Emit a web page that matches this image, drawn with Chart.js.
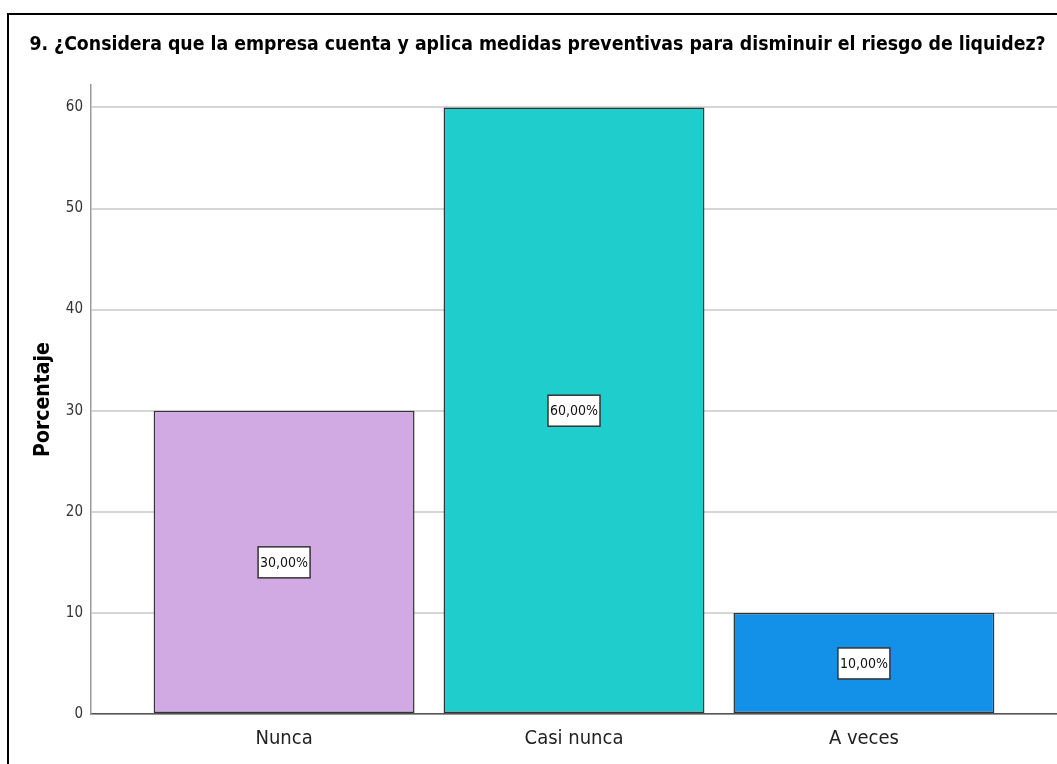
<!doctype html>
<html>

<head>
    <meta charset="utf-8">
    <title>Porcentaje</title>
    <script src="https://cdn.jsdelivr.net/npm/chart.js"></script>
    <style>
        body { margin: 0; background: #fff; overflow: hidden; }
        #marco { position: absolute; left: 7px; top: 13px; width: 1100px; height: 800px; border: 2px solid #000; }
        #grafico { position: absolute; left: 0; top: 0; }
    </style>
</head>

<body>
    <div id="marco"></div>
    <canvas id="grafico" width="1057" height="764"></canvas>

    <script>
        const titulo = '9. ¿Considera que la empresa cuenta y aplica medidas preventivas para disminuir el riesgo de liquidez?';
        const categorias = ['Nunca', 'Casi nunca', 'A veces'];
        const porcentajes = [30, 60, 10];
        const colores = ['#D1AAE4', '#1FCDCD', '#1391E8'];
        const marcasY = [0, 10, 20, 30, 40, 50, 60];

        const fuente = "'Liberation Sans Narrow', 'Arial Narrow', 'DejaVu Sans Condensed', sans-serif";

        // etiquetas con caja blanca en el centro de cada barra
        const etiquetas = {
            id: 'etiquetas',
            afterDatasetsDraw(chart) {
                const ctx = chart.ctx;
                const yScale = chart.scales.y;
                chart.getDatasetMeta(0).data.forEach((barra, i) => {
                    const v = porcentajes[i];
                    const y = yScale.getPixelForValue(v / 2);
                    const w = 52, h = 31;
                    ctx.save();
                    ctx.fillStyle = '#fff';
                    ctx.fillRect(barra.x - w / 2, y - h / 2, w, h);
                    ctx.strokeStyle = '#333';
                    ctx.lineWidth = 1.5;
                    ctx.strokeRect(barra.x - w / 2, y - h / 2, w, h);
                    ctx.fillStyle = '#111';
                    ctx.font = '14px ' + fuente;
                    ctx.textAlign = 'center';
                    ctx.textBaseline = 'middle';
                    ctx.fillText(v.toFixed(2).replace('.', ',') + '%', barra.x, y + 1);
                    ctx.restore();
                });
            }
        };

        new Chart(document.getElementById('grafico').getContext('2d'), {
            type: 'bar',
            data: {
                datasets: [{
                    data: categorias.map((c, i) => ({ x: i, y: porcentajes[i] })),
                    backgroundColor: colores,
                    borderColor: '#333',
                    borderWidth: 1.5,
                    borderSkipped: false,
                    categoryPercentage: 0.9,
                    barPercentage: 1
                }]
            },
            options: {
                responsive: false,
                animation: false,
                layout: { padding: { left: 18, top: 0, right: 0, bottom: 0 } },
                plugins: {
                    legend: { display: false },
                    tooltip: { enabled: false },
                    title: {
                        display: true,
                        text: titulo,
                        color: '#000',
                        font: { family: fuente, size: 19.3, weight: 'bold' },
                        padding: { top: 33, bottom: 29 }
                    }
                },
                scales: {
                    x: {
                        type: 'linear',
                        offset: false,
                        min: -0.666,
                        max: 2.666,
                        afterBuildTicks: (s) => { s.ticks = categorias.map((c, i) => ({ value: i })); },
                        afterFit: (s) => { s.height = 50; },
                        grid: { display: false, drawTicks: false },
                        border: { display: true, color: '#555', width: 1.5 },
                        ticks: {
                            padding: 13,
                            color: '#222',
                            font: { family: fuente, size: 20 },
                            callback: (v) => categorias[v]
                        }
                    },
                    y: {
                        min: 0,
                        max: 62.2,
                        afterBuildTicks: (s) => { s.ticks = marcasY.map(v => ({ value: v })); },
                        afterFit: (s) => { s.width = 73; },
                        grid: { color: '#d6d6d6', lineWidth: 2, drawTicks: false },
                        border: { display: true, color: '#999', width: 1.5 },
                        ticks: {
                            padding: 8,
                            color: '#333',
                            font: { family: fuente, size: 15 }
                        },
                        title: {
                            display: true,
                            text: 'Porcentaje',
                            color: '#000',
                            font: { family: fuente, size: 21, weight: 'bold' },
                            padding: { top: 13, bottom: 0 }
                        }
                    }
                }
            },
            plugins: [etiquetas]
        });
    </script>
</body>

</html>
